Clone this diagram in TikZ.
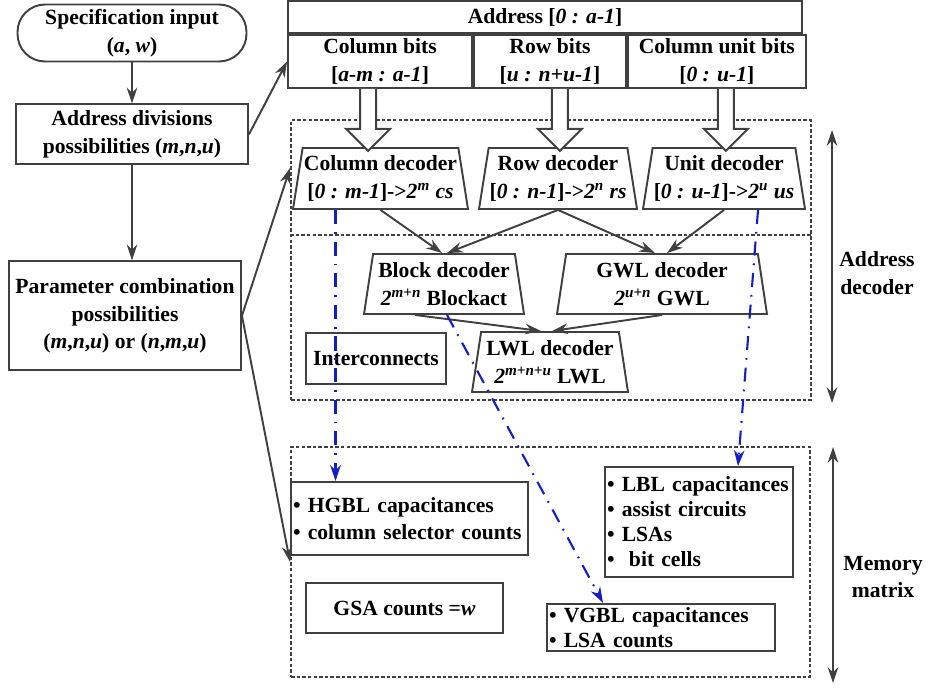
\documentclass[tikz,border=0pt]{standalone}
\usepackage{fontspec}
\setmainfont{Liberation Serif}
\usepackage{tikz}
\usetikzlibrary{arrows.meta, positioning, shapes.geometric}

\definecolor{linegray}{RGB}{64,64,64}
\definecolor{dashblue}{RGB}{20,30,200}
\newcommand{\dfont}{\fontsize{12.3}{15.6}\selectfont\bfseries}
\newcommand{\lfont}{\fontsize{12.3}{14.2}\selectfont\bfseries}

\tikzset{
  box/.style={draw=linegray, line width=1.1pt, inner sep=1pt, align=center},
  term/.style={box, rounded corners=0.55cm},
  cell/.style={box, inner sep=0pt},
  dec/.style={box, trapezium, trapezium left angle=78, trapezium right angle=78,
    trapezium stretches body, inner sep=0pt},
  listbox/.style={box, align=left, inner xsep=1pt, inner ysep=2pt},
  region/.style={draw=linegray, line width=1.1pt, dash pattern=on 2pt off 1.2pt},
  fat/.style={draw=linegray, line width=1.1pt, fill=white},
  link/.style={-{Stealth[length=9pt, width=6pt]}, linegray},
  blueline/.style={-{Stealth[length=9pt, width=6pt]}, dashblue, line width=1.2pt, dash pattern=on 8pt off 4.5pt on 1pt off 4.5pt}
}

\begin{document}
\begin{tikzpicture}[x=0.02cm, y=-0.02cm, font=\dfont, line width=1.1pt]
\useasboundingbox (0,0) rectangle (928,687);

% left column
\node[term, minimum width=4.58cm, minimum height=1.14cm] (spec) at (132,33) {Specification input\\(\textit{a}, \textit{w})};
\node[box, minimum width=4.64cm, minimum height=1.2cm, below=0.82cm of spec] (addrdiv) {Address divisions\\possibilities (\textit{m},\textit{n},\textit{u})};
\node[box, minimum width=4.64cm, minimum height=2.18cm, below=1.9cm of addrdiv, xshift=-0.14cm] (param) {Parameter combination\\possibilities\\(\textit{m},\textit{n},\textit{u}) or (\textit{n},\textit{m},\textit{u})};

% address table
\node[cell, minimum width=10.28cm, minimum height=0.64cm] (addr) at (545,17) {Address [\textit{0 : a-1}]};
\node[cell, minimum width=3.68cm, minimum height=1.06cm, below right=0cm of addr.south west] (colbits) {Column bits\\{[}\textit{a-m : a-1}]};
\node[cell, minimum width=3.04cm, minimum height=1.06cm, right=0cm of colbits] (rowbits) {Row bits\\{[}\textit{u : n+u-1}]};
\node[cell, minimum width=3.56cm, minimum height=1.06cm, right=0cm of rowbits] (unitbits) {Column unit bits\\{[}\textit{0 : u-1}]};

% dashed regions
\node[region, minimum width=10.4cm, minimum height=5.6cm] (adec) at (551,260) {};
\node[region, minimum width=10.38cm, minimum height=4.6cm] (mmat) at (550.5,562) {};
\draw[region] (adec.west |- 0,235) -- (adec.east |- 0,235);

% decoders
\node[dec, minimum width=3.5cm, minimum height=1.22cm] (coldec) at (380.5,178.5) {Column decoder\\{[}\textit{0 : m-1}]->\textit{2}\textsuperscript{\textit{m}} \textit{cs}};
\node[dec, minimum width=3.16cm, minimum height=1.22cm] (rowdec) at (558,178.5) {Row decoder\\{[}\textit{0 : n-1}]->\textit{2}\textsuperscript{\textit{n}} \textit{rs}};
\node[dec, minimum width=3.24cm, minimum height=1.22cm] (unitdec) at (724,178.5) {Unit decoder\\{[}\textit{0 : u-1}]->\textit{2}\textsuperscript{\textit{u}} \textit{us}};
\node[dec, minimum width=3.2cm, minimum height=1.2cm] (blockdec) at (444,284) {Block decoder\\\textit{2}\textsuperscript{\textit{m+n}} Blockact};
\node[dec, minimum width=4.2cm, minimum height=1.2cm] (gwldec) at (662,284) {GWL decoder\\\textit{2}\textsuperscript{\textit{u+n}} GWL};
\node[dec, minimum width=3.12cm, minimum height=1.2cm] (lwldec) at (550,362) {LWL decoder\\\textit{2}\textsuperscript{\textit{m+n+u}} LWL};
\node[box, minimum width=2.8cm, minimum height=1.02cm] (intercon) at (376,358.5) {Interconnects};

% memory matrix parts
\node[listbox, text width=4.66cm, minimum height=1.46cm] (hgbl) at (409.5,518.5) {\textbullet\ HGBL capacitances\\\textbullet\ column selector counts};
\node[box, minimum width=3.94cm, minimum height=1.0cm] (gsa) at (404.5,608) {GSA counts =\textit{w}};
\node[listbox, text width=3.68cm, minimum height=2.2cm, font=\lfont] (lbl) at (699,522) {\textbullet\ LBL capacitances\\\textbullet\ assist circuits\\\textbullet\ LSAs\\\textbullet\ \ bit cells};
\node[listbox, text width=4.48cm, minimum height=0.9cm, font=\lfont] (vgbl) at (661,627.5) {\textbullet\ VGBL capacitances\\\textbullet\ LSA counts};

% side labels
\node[align=center] (adeclbl) at (877,273) {Address\\decoder};
\node[align=center] (mmatlbl) at (883,577) {Memory\\matrix};
\coordinate (atop) at (832,130);
\coordinate (abot) at (832,403);
\coordinate (mtop) at (833,447);
\coordinate (mbot) at (833,683);
\coordinate (adecin) at (adec.west |- 0,168);

% hollow arrows
\foreach \c/\s in {colbits/-12, rowbits/10, unitbits/9}
  \draw[fat] (\c.south) ++(\s-8,0) -- ++(0,40) -- ++(-14,0) -- ++(22,22) -- ++(22,-22) -- ++(-14,0) -- ++(0,-40);

\path[link] (spec) edge (addrdiv);
\path[link] (addrdiv.south) edge (addrdiv.south |- param.north);
\path[link] (addrdiv.east) edge (colbits.west);
\path[link] (param.east) edge (adecin);
\path[link] (param.east) edge (mmat.west);

\path[link] (coldec.south) edge ([xshift=-0.04cm]blockdec.north);
\path[link] (rowdec.south) edge ([xshift=0.06cm]blockdec.north);
\path[link] (rowdec.south) edge ([xshift=-0.14cm]gwldec.north);
\path[link] (unitdec.south) edge ([xshift=0.1cm]gwldec.north);
\path[link] ([xshift=-0.58cm]blockdec.south) edge ([xshift=-0.18cm]lwldec.north);
\path[link] (gwldec.south) edge ([xshift=0.04cm]lwldec.north);

\draw[{Stealth[length=9pt, width=6pt]}-{Stealth[length=9pt, width=6pt]}, linegray] (atop) -- (abot);
\draw[{Stealth[length=9pt, width=6pt]}-{Stealth[length=9pt, width=6pt]}, linegray] (mtop) -- (mbot);

% blue links
\draw[blueline] ([xshift=-0.9cm]coldec.south) coordinate (h0) -- (h0 |- hgbl.north);
\draw[blueline] ([xshift=0.06cm]blockdec.south) -- ([xshift=-1.16cm]vgbl.north);
\draw[blueline] ([xshift=0.68cm]unitdec.south) -- ([xshift=0.78cm]lbl.north);
\end{tikzpicture}
\end{document}
